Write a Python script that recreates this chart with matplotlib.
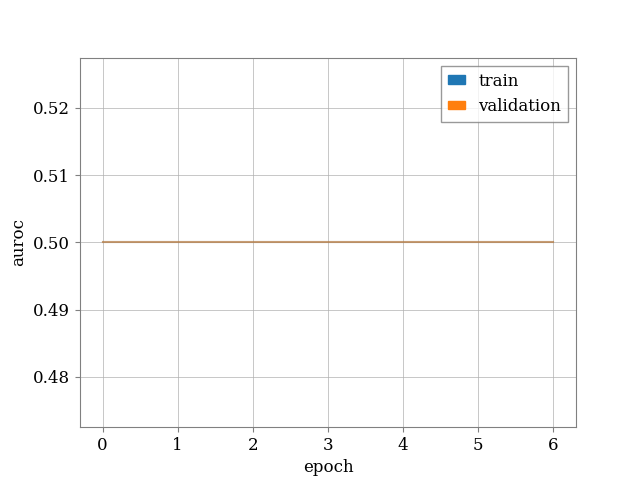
import matplotlib
matplotlib.use("Agg")
import matplotlib.pyplot as plt
from matplotlib.patches import Patch

epochs = [0, 1, 2, 3, 4, 5, 6]
train_auroc = [0.5, 0.5, 0.5, 0.5, 0.5, 0.5, 0.5]
val_auroc = [0.5, 0.5, 0.5, 0.5, 0.5, 0.5, 0.5]

plt.rcParams["font.family"] = "DejaVu Serif"
plt.rcParams["font.size"] = 12

fig, ax = plt.subplots(figsize=(6.4, 4.8), dpi=100)
ax.plot(epochs, train_auroc, color="#1f77b4", alpha=0.5)
ax.plot(epochs, val_auroc, color="#ff7f0e", alpha=0.5)

ax.set_xlabel("epoch")
ax.set_ylabel("auroc")
ax.grid(True, color="#b0b0b0", linewidth=0.5)
ax.set_axisbelow(True)
for s in ax.spines.values():
    s.set_color("#808080")
ax.tick_params(color="#808080")

handles = [Patch(color="#1f77b4", label="train"),
           Patch(color="#ff7f0e", label="validation")]
ax.legend(handles=handles, loc="upper right", fancybox=False,
          edgecolor="#808080", handlelength=1.0, handleheight=0.4)

fig.savefig("out.png", dpi=100)
